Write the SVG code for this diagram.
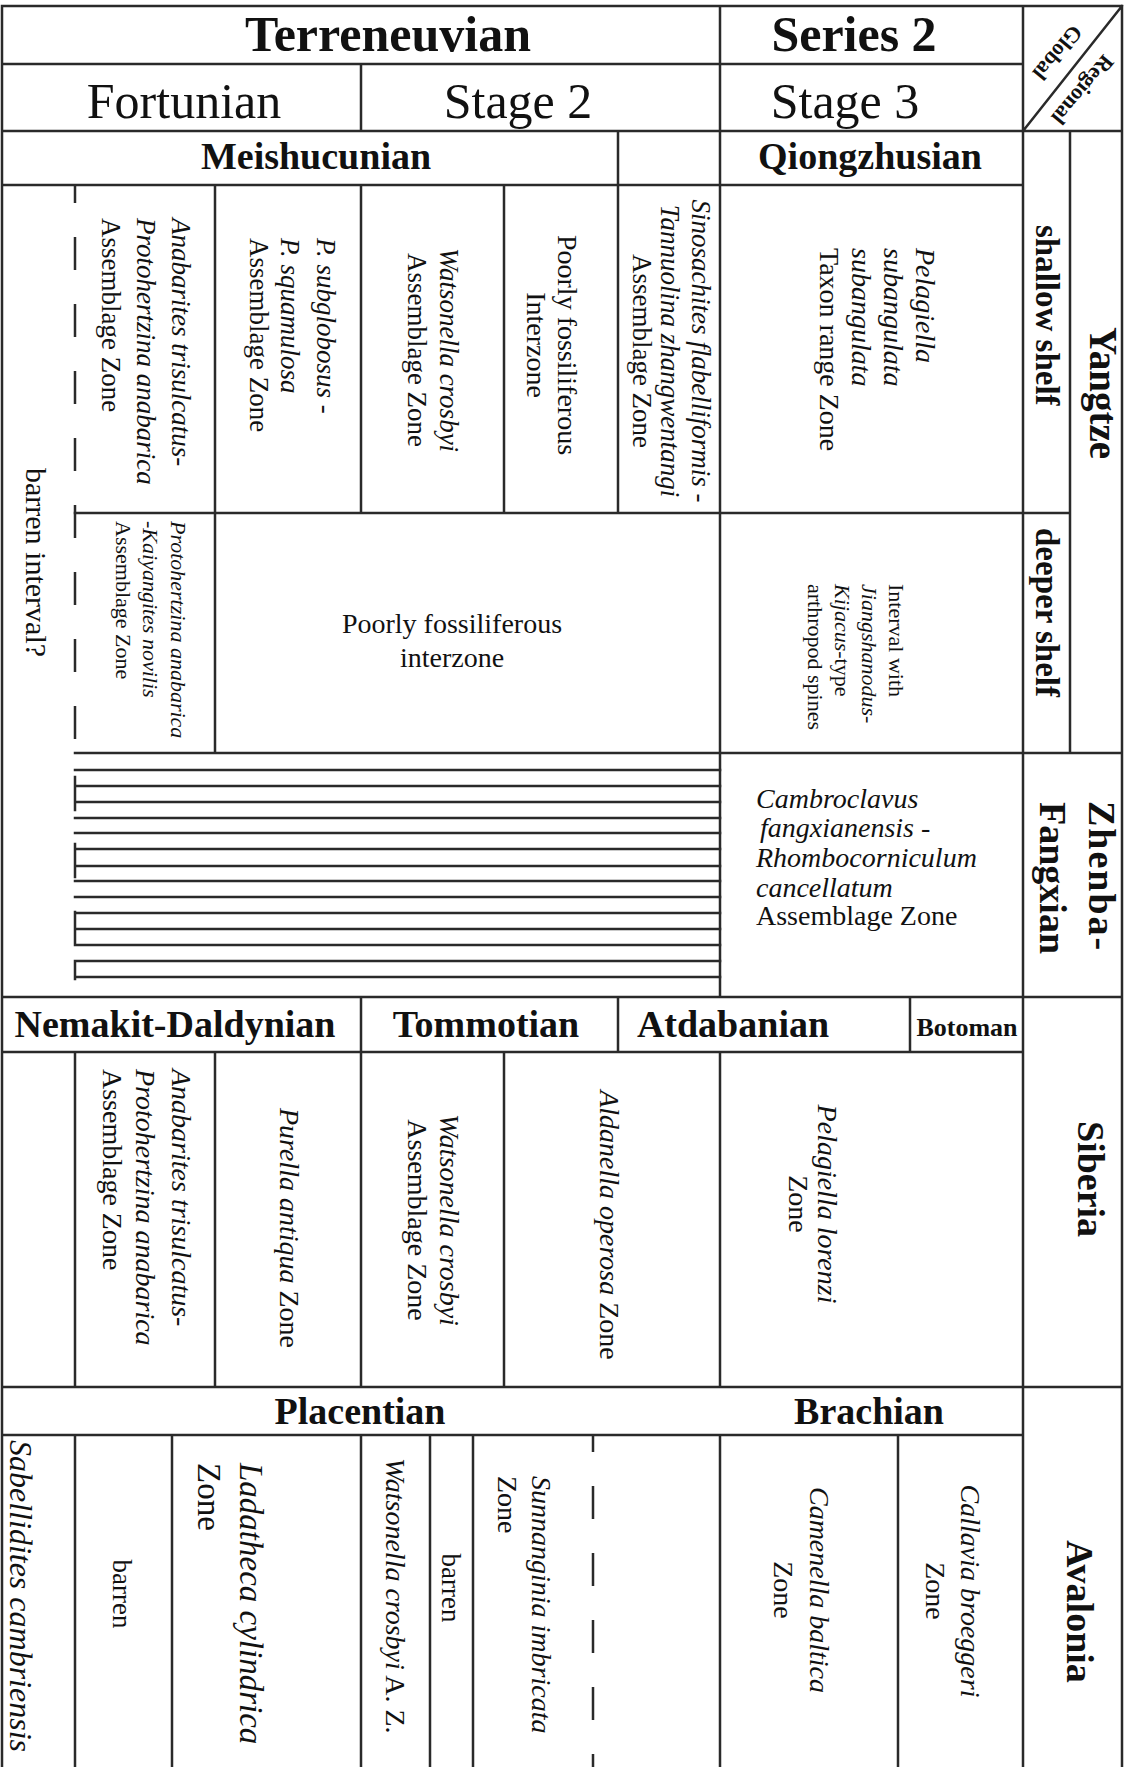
<svg xmlns="http://www.w3.org/2000/svg" width="1133" height="1767" viewBox="0 0 1133 1767">
<style>
.ln{stroke:#2a2a2a;stroke-width:2.5;fill:none;stroke-linecap:square}
.dash{stroke:#2a2a2a;stroke-width:2.5;fill:none;stroke-dasharray:33 34}
text{font-family:"Liberation Serif","Times New Roman",serif;fill:#111}
.b{font-weight:bold}
.i{font-style:italic}
.m{text-anchor:middle}
</style>
<rect width="1133" height="1767" fill="#fff"/>
<g id="grid">
<path class="ln" d="M2 6H1122M2 64H1023M2 131H1122M2 185H1023M75 513H1070M75 753H1122M2 997H1122M2 1052H1023M2 1387H1122M2 1435H1023
M2 6V1767M1122 6V1767M1023 6V1767
M720 6V997M720 1052V1387M720 1435V1767
M361 64V131M361 185V513M361 997V1387M361 1435V1767
M618 131V513M618 997V1052
M504 185V513M504 1052V1387
M215 185V753M215 1052V1387
M75 1052V1387M75 1435V1767
M910 997V1052M1070 131V753
M172 1435V1767M430 1435V1767M473 1435V1767M898 1435V1767
M1023 131L1122 6"/>
<path class="ln" d="M75 770H720M75 786H720M75 802H720M75 818H720M75 833H720M75 849H720M75 866H720M75 881H720M75 897H720M75 913H720M75 929H720M75 945H720M75 961H720M75 977H720
M75 777V810M75 844V877M75 912V945M75 962V979"/>
<path class="dash" d="M75 185V753" stroke-dashoffset="15"/>
<path class="dash" d="M593 1435V1767" stroke-dashoffset="16"/>
</g>
<g id="header">
<text class="b m" x="388" y="51" font-size="50">Terreneuvian</text>
<text class="b m" x="854" y="51" font-size="50">Series 2</text>
<text class="m" x="184" y="118" font-size="50">Fortunian</text>
<text class="m" x="518" y="118" font-size="50">Stage 2</text>
<text class="m" x="845" y="118" font-size="50">Stage 3</text>
<text class="b m" font-size="22" transform="translate(1052,48) rotate(130)">Global</text>
<text class="b m" font-size="22" transform="translate(1077,85) rotate(130)">Regional</text>
<text class="b m" x="316" y="169" font-size="38">Meishucunian</text>
<text class="b m" x="870" y="169" font-size="38">Qiongzhusian</text>
</g>
<g id="yangtze">
<text font-size="30" transform="translate(26,468) rotate(90)">barren interval?</text>
<text font-size="27" transform="translate(172,218) rotate(90)"><tspan class="i" x="0" y="0">Anabarites trisulcatus-</tspan><tspan class="i" x="0" y="35">Protohertzina anabarica</tspan><tspan x="0" y="70">Assemblage Zone</tspan></text>
<text font-size="27" transform="translate(317,238) rotate(90)"><tspan class="i" x="0" y="0">P. subglobosus -</tspan><tspan class="i" x="0" y="36">P. squamulosa</tspan><tspan x="0" y="67">Assemblage Zone</tspan></text>
<text class="m" font-size="27" transform="translate(440,350) rotate(90)"><tspan class="i" x="0" y="0">Watsonella crosbyi</tspan><tspan x="0" y="32">Assemblage Zone</tspan></text>
<text class="m" font-size="28" transform="translate(558,345) rotate(90)"><tspan x="0" y="0">Poorly fossiliferous</tspan><tspan x="0" y="31">Interzone</tspan></text>
<text class="m" font-size="27" transform="translate(692,351) rotate(90)"><tspan class="i" x="0" y="0">Sinosachites flabelliformis -</tspan><tspan class="i" x="0" y="31">Tannuolina zhangwentangi</tspan><tspan x="0" y="59">Assemblage Zone</tspan></text>
<text font-size="28" transform="translate(916,248) rotate(90)"><tspan class="i" x="0" y="0">Pelagiella</tspan><tspan class="i" x="0" y="32">subangulata</tspan><tspan class="i" x="0" y="64">subangulata</tspan><tspan x="0" y="96">Taxon range Zone</tspan></text>
<text class="b" font-size="33" transform="translate(1036,225) rotate(90)">shallow shelf</text>
<text class="b" font-size="39" transform="translate(1090,327) rotate(90)">Yangtze</text>
<text font-size="22" transform="translate(171,521) rotate(90)"><tspan class="i" x="0" y="0">Protohertzina anabarica</tspan><tspan class="i" x="0" y="28">-Kaiyangites novilis</tspan><tspan x="0" y="55">Assemblage Zone</tspan></text>
<text class="m" font-size="28"><tspan x="452" y="633">Poorly fossiliferous</tspan><tspan x="452" y="667">interzone</tspan></text>
<text font-size="22" transform="translate(889,584) rotate(90)"><tspan x="0" y="0">Interval with</tspan><tspan class="i" x="0" y="27">Jiangshanodus-</tspan><tspan x="0" y="54"><tspan class="i">Kijacus</tspan>-type</tspan><tspan x="0" y="81">arthropod spines</tspan></text>
<text class="b" font-size="33" transform="translate(1036,528) rotate(90)">deeper shelf</text>
</g>
<g id="zhenba">
<text font-size="28"><tspan class="i" x="756" y="808">Cambroclavus</tspan><tspan class="i" x="760" y="837">fangxianensis -</tspan><tspan class="i" x="756" y="867">Rhombocorniculum</tspan><tspan class="i" x="756" y="897">cancellatum</tspan><tspan x="756" y="925">Assemblage Zone</tspan></text>
<text class="b" font-size="38" letter-spacing="2" transform="translate(1089,801) rotate(90)">Zhenba-</text>
<text class="b" font-size="38" transform="translate(1040,802) rotate(90)">Fangxian</text>
</g>
<g id="siberia">
<text class="b m" x="175" y="1037" font-size="38">Nemakit-Daldynian</text>
<text class="b m" x="486" y="1037" font-size="38">Tommotian</text>
<text class="b m" x="733" y="1037" font-size="38">Atdabanian</text>
<text class="b m" x="967" y="1036" font-size="26">Botoman</text>
<text font-size="28" transform="translate(172,1069) rotate(90)"><tspan class="i" x="0" y="0">Anabarites trisulcatus-</tspan><tspan class="i" x="0" y="36">Protohertzina anabarica</tspan><tspan x="0" y="69">Assemblage Zone</tspan></text>
<text class="m" font-size="28" transform="translate(280,1228) rotate(90)"><tspan class="i">Purella antiqua</tspan> Zone</text>
<text class="m" font-size="28" transform="translate(440,1220) rotate(90)"><tspan class="i" x="0" y="0">Watsonella crosbyi</tspan><tspan x="0" y="32">Assemblage Zone</tspan></text>
<text class="m" font-size="28" transform="translate(600,1225) rotate(90)"><tspan class="i">Aldanella operosa</tspan> Zone</text>
<text class="m" font-size="28" transform="translate(818,1204) rotate(90)"><tspan class="i" x="0" y="0">Pelagiella lorenzi</tspan><tspan x="0" y="29">Zone</tspan></text>
<text class="b" font-size="38" transform="translate(1078,1121) rotate(90)">Siberia</text>
</g>
<g id="avalonia">
<text class="b m" x="360" y="1424" font-size="38">Placentian</text>
<text class="b m" x="869" y="1424" font-size="38">Brachian</text>
<text class="i" font-size="32" transform="translate(10,1440) rotate(90)">Sabellidites cambriensis</text>
<text class="m" font-size="27" transform="translate(113,1594) rotate(90)">barren</text>
<text font-size="33" transform="translate(240,1463) rotate(90)"><tspan class="i" x="0" y="0">Ladatheca cylindrica</tspan><tspan x="0" y="42">Zone</tspan></text>
<text font-size="28" transform="translate(386,1458) rotate(90)"><tspan class="i">Watsonella crosbyi</tspan> A. Z.</text>
<text class="m" font-size="27" transform="translate(442,1588) rotate(90)">barren</text>
<text font-size="28" transform="translate(532,1476) rotate(90)"><tspan class="i" x="0" y="0">Sunnanginia imbricata</tspan><tspan x="0" y="34">Zone</tspan></text>
<text class="m" font-size="28" transform="translate(810,1590) rotate(90)"><tspan class="i" x="0" y="0">Camenella baltica</tspan><tspan x="0" y="36">Zone</tspan></text>
<text class="m" font-size="28" transform="translate(961,1591) rotate(90)"><tspan class="i" x="0" y="0">Callavia broeggeri</tspan><tspan x="0" y="35">Zone</tspan></text>
<text class="b" font-size="38" transform="translate(1067,1540) rotate(90)">Avalonia</text>
</g>
</svg>
